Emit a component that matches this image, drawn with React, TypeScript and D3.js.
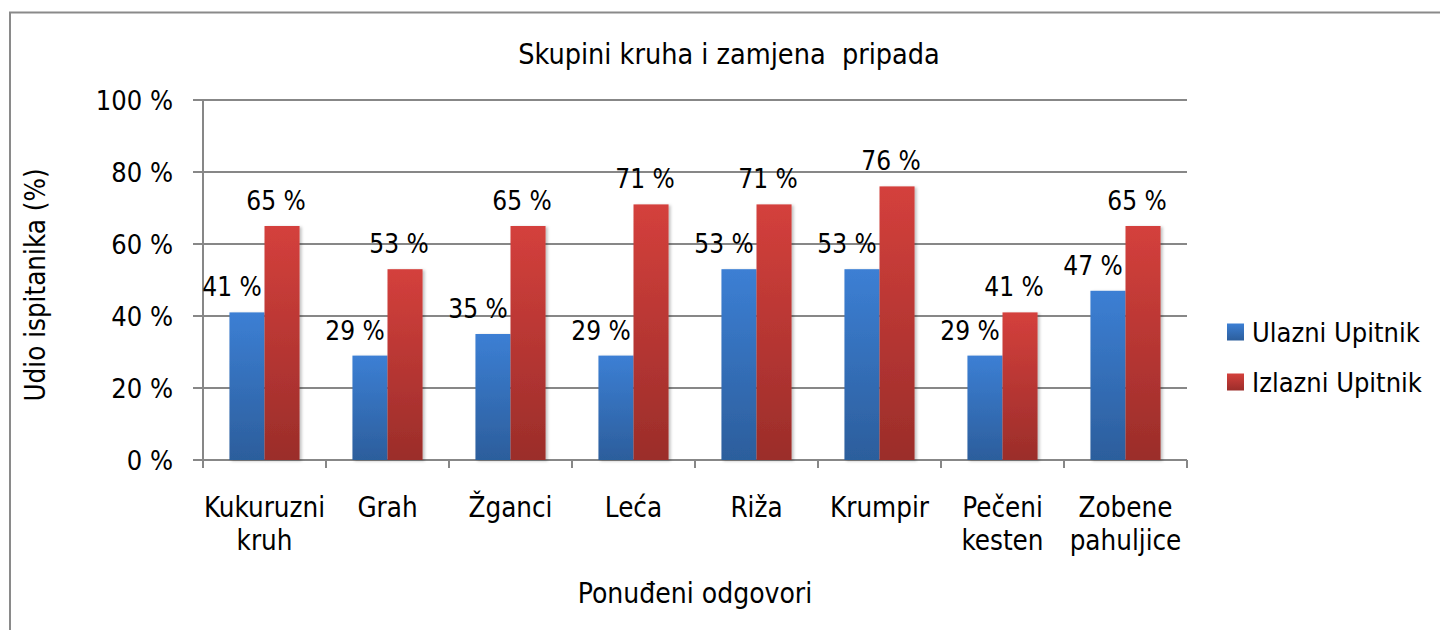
import React from "react";
import * as d3 from "d3";

const categories: string[][] = [
  ["Kukuruzni", "kruh"],
  ["Grah"],
  ["Žganci"],
  ["Leća"],
  ["Riža"],
  ["Krumpir"],
  ["Pečeni", "kesten"],
  ["Zobene", "pahuljice"],
];
const ulazni: number[] = [41, 29, 35, 29, 53, 53, 29, 47];
const izlazni: number[] = [65, 53, 65, 71, 71, 76, 41, 65];
const yTicks: number[] = [0, 20, 40, 60, 80, 100];
const seriesNames = ["Ulazni Upitnik", "Izlazni Upitnik"];

const W = 1440;
const H = 630;
const FONT = "'DejaVu Sans Condensed', 'DejaVu Sans', Verdana, sans-serif";

export default function App() {
  const left = 203, right = 1187, top = 100, bottom = 460;
  const x = d3.scaleBand<number>().domain(d3.range(categories.length)).range([left, right]);
  const y = d3.scaleLinear().domain([0, 100]).range([bottom, top]);
  const bw = x.bandwidth() * 0.285;
  const grid = "#878787";

  const series = [
    { vals: ulazni, grad: "gBlue", off: -bw, labelDx: -15 },
    { vals: izlazni, grad: "gRed", off: 0, labelDx: -6 },
  ];

  return (
    <svg width={W} height={H} style={{ position: "absolute", left: 0, top: 0, background: "#fff" }} fontFamily={FONT} fontStretch="condensed">
      <defs>
        <linearGradient id="gBlue" x1="0" y1="0" x2="0" y2="1">
          <stop offset="0" stopColor="#3c7fd4" />
          <stop offset="1" stopColor="#2c5e9c" />
        </linearGradient>
        <linearGradient id="gRed" x1="0" y1="0" x2="0" y2="1">
          <stop offset="0" stopColor="#d4403c" />
          <stop offset="1" stopColor="#9b2d2a" />
        </linearGradient>
        <filter id="shadow" x="-20%" y="-5%" width="150%" height="115%">
          <feDropShadow dx="2" dy="1" stdDeviation="1.5" floodColor="#000" floodOpacity="0.25" />
        </filter>
      </defs>
      <rect x={0} y={0} width={W} height={H} fill="#fff" />
      <rect x={10} y={12.5} width={1600} height={800} fill="none" stroke="#8a8a8a" strokeWidth={2} />

      <text x={729} y={64} textAnchor="middle" fontSize={28.5} style={{ whiteSpace: "pre" }}>Skupini kruha i zamjena  pripada</text>

      {yTicks.map((t) => (
        <g key={t}>
          <line x1={193} x2={right} y1={y(t)} y2={y(t)} stroke={grid} strokeWidth={2} />
          <text x={173} y={y(t)} dy="0.36em" textAnchor="end" fontSize={27}>{t} %</text>
        </g>
      ))}
      <line x1={left} x2={left} y1={top} y2={bottom + 8} stroke={grid} strokeWidth={2} />
      {d3.range(categories.length + 1).map((i) => {
        const xx = i === categories.length ? right : (x(i) as number);
        return <line key={i} x1={xx} x2={xx} y1={bottom} y2={bottom + 8} stroke={grid} strokeWidth={2} />;
      })}

      {series.map((s, si) => (
        <g key={si}>
          {s.vals.map((v, i) => {
            const cx = (x(i) as number) + x.bandwidth() / 2;
            const bx = cx + s.off;
            return (
              <g key={i}>
                <rect x={bx} y={y(v)} width={bw} height={bottom - y(v)} fill={`url(#${s.grad})`} filter="url(#shadow)" />
                <text x={bx + bw / 2 + s.labelDx} y={y(v) - 16} textAnchor="middle" fontSize={26}>{v} %</text>
              </g>
            );
          })}
        </g>
      ))}

      {categories.map((lines, i) => {
        const cx = (x(i) as number) + x.bandwidth() / 2;
        return (
          <text key={i} x={cx} y={517} textAnchor="middle" fontSize={27.5}>
            {lines.map((l, j) => (
              <tspan key={j} x={cx} dy={j === 0 ? 0 : 33}>{l}</tspan>
            ))}
          </text>
        );
      })}

      <text x={695} y={603} textAnchor="middle" fontSize={28}>Ponuđeni odgovori</text>
      <text transform={`translate(45, 285) rotate(-90)`} textAnchor="middle" fontSize={27.5}>Udio ispitanika (%)</text>

      {seriesNames.map((n, i) => (
        <g key={n} transform={`translate(1227, ${332 + i * 50})`}>
          <rect x={0} y={-8.5} width={17} height={17} fill={`url(#${i === 0 ? "gBlue" : "gRed"})`} />
          <text x={25} y={0} dy="0.36em" fontSize={27}>{n}</text>
        </g>
      ))}
    </svg>
  );
}
